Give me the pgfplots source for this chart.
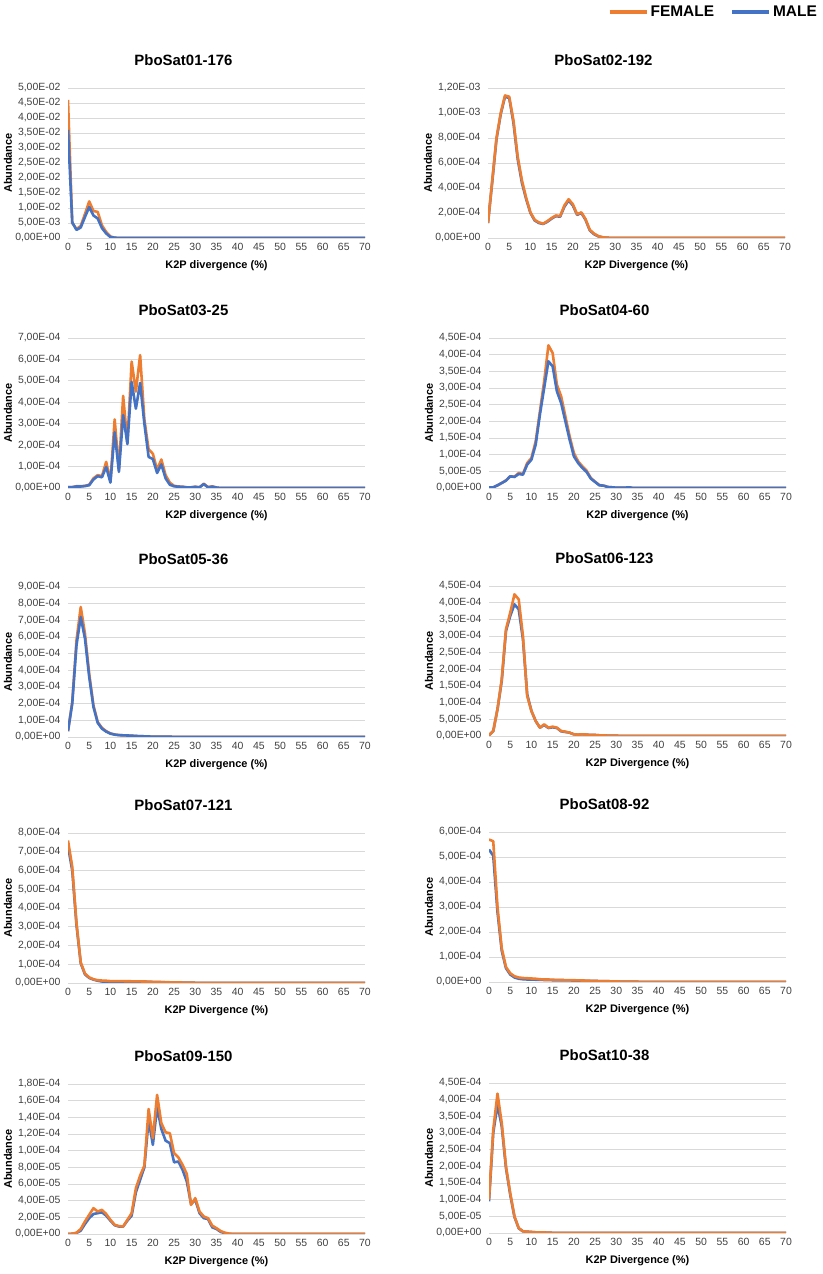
\documentclass[border=0pt]{standalone}
\usepackage{fontspec}
\setmainfont{Liberation Sans}
\usepackage{pgfplots}
\pgfplotsset{compat=1.18}

\definecolor{exor}{HTML}{ED7D31}
\definecolor{exbl}{HTML}{4472C4}
\definecolor{gridc}{HTML}{D9D9D9}
\definecolor{tickc}{HTML}{404040}

\pgfplotsset{
 panel/.style={
  scale only axis, width=297bp, height=150bp, anchor=south west,
  xmin=0, xmax=70, ymin=0,
  xtick={0,5,...,70},
  scaled y ticks=false, scaled x ticks=false,
  axis line style={draw=none}, tick style={draw=none},
  ymajorgrids, grid style={draw=gridc, line width=0.9pt},
  tick label style={font=\fontsize{10.5}{12}\selectfont, text=tickc},
  /pgf/number format/assume math mode=true,
  xticklabel style={yshift=-2bp},
  yticklabel style={xshift=-4bp},
  title style={font=\fontsize{15}{18}\selectfont\bfseries, at={(axis description cs:0.5,1)}, anchor=center, xshift=-33bp, yshift=22bp},
  label style={font=\fontsize{11}{13}\selectfont\bfseries},
  xlabel style={at={(axis description cs:0.5,0)}, anchor=center, yshift=-28bp},
  ylabel style={at={([xshift=-60bp]axis description cs:0,0.5)}, anchor=center},
  ylabel={Abundance},
 },
 fem/.style={exor, line width=2.6bp, line join=round},
 mal/.style={exbl, line width=2.6bp, line join=round},
}

\begin{document}
\begin{tikzpicture}
\useasboundingbox (0,0) rectangle (823bp,1274bp);

% ---------- Panel 1
\begin{axis}[panel, at={(68bp,1036bp)}, title={PboSat01-176}, xlabel={K2P divergence (\%)},
  ymax=0.05, ytick={0,0.005,0.01,0.015,0.02,0.025,0.03,0.035,0.04,0.045,0.05},
  yticklabels={{0,00E+00},{5,00E-03},{1,00E-02},{1,50E-02},{2,00E-02},{2,50E-02},{3,00E-02},{3,50E-02},{4,00E-02},{4,50E-02},{5,00E-02}}]
\addplot[fem] coordinates {(0,0.046)(1,0.005)(2,0.0030)(3,0.0040)(4,0.0080)(5,0.0122)(6,0.0090)(7,0.0087)(8,0.0042)(9,0.0020)(10,0.0005)(11,0.0001)(12,0)(70,0)};
\addplot[mal] coordinates {(0,0.036)(1,0.0052)(2,0.0027)(3,0.0035)(4,0.0070)(5,0.0103)(6,0.0075)(7,0.0065)(8,0.0033)(9,0.0015)(10,0.0003)(11,0.0001)(12,0)(70,0)};
\end{axis}

% ---------- Panel 2
\begin{axis}[panel, at={(488bp,1036bp)}, title={PboSat02-192}, xlabel={K2P Divergence (\%)},
  ymax=1.2e-3, ytick={0,2e-4,4e-4,6e-4,8e-4,1e-3,1.2e-3},
  yticklabels={{0,00E+00},{2,00E-04},{4,00E-04},{6,00E-04},{8,00E-04},{1,00E-03},{1,20E-03}},
  legend style={at={(axis description cs:1,1)}, anchor=east, xshift=37bp, yshift=76bp, draw=none, fill=none,
    font=\fontsize{15.5}{18}\selectfont\bfseries, /tikz/every even column/.append style={column sep=14bp}},
  legend columns=2, legend cell align=left,
  legend image code/.code={\draw[#1, line width=4bp] (0bp,0bp) -- (37bp,0bp);}]
\addlegendimage{exor}
\addlegendentry{FEMALE}
\addlegendimage{exbl}
\addlegendentry{MALE}
\addplot[mal, forget plot] coordinates {(0,1.2e-4)(1,4.5e-4)(2,7.9e-4)(3,9.9e-4)(4,1.13e-3)(5,1.12e-3)(6,9.2e-4)(7,6.3e-4)(8,4.4e-4)(9,3.1e-4)(10,2.0e-4)(11,1.4e-4)(12,1.2e-4)(13,1.12e-4)(14,1.3e-4)(15,1.55e-4)(16,1.75e-4)(17,1.7e-4)(18,2.5e-4)(19,3.0e-4)(20,2.6e-4)(21,1.85e-4)(22,2.0e-4)(23,1.45e-4)(24,6e-5)(25,3e-5)(26,1.3e-5)(27,5e-6)(28,2e-6)(29,1e-6)(30,0)(70,0)};
\addplot[fem, forget plot] coordinates {(0,1.2e-4)(1,4.6e-4)(2,8.0e-4)(3,1.0e-3)(4,1.14e-3)(5,1.13e-3)(6,9.4e-4)(7,6.5e-4)(8,4.6e-4)(9,3.2e-4)(10,2.05e-4)(11,1.45e-4)(12,1.25e-4)(13,1.15e-4)(14,1.35e-4)(15,1.6e-4)(16,1.8e-4)(17,1.75e-4)(18,2.6e-4)(19,3.1e-4)(20,2.7e-4)(21,1.9e-4)(22,2.05e-4)(23,1.5e-4)(24,6.5e-5)(25,3.5e-5)(26,1.5e-5)(27,6e-6)(28,2e-6)(29,1e-6)(30,0)(70,0)};
\end{axis}

% ---------- Panel 3
\begin{axis}[panel, at={(68bp,786bp)}, title={PboSat03-25}, xlabel={K2P divergence (\%)},
  ymax=7e-4, ytick={0,1e-4,2e-4,3e-4,4e-4,5e-4,6e-4,7e-4},
  yticklabels={{0,00E+00},{1,00E-04},{2,00E-04},{3,00E-04},{4,00E-04},{5,00E-04},{6,00E-04},{7,00E-04}}]
\addplot[fem] coordinates {(0,4e-6)(1,4e-6)(2,8e-6)(3,8e-6)(4,1e-5)(5,1.5e-5)(6,4.5e-5)(7,6e-5)(8,5.5e-5)(9,1.22e-4)(10,3e-5)(11,3.2e-4)(12,8.5e-5)(13,4.3e-4)(14,2.1e-4)(15,5.9e-4)(16,4.5e-4)(17,6.2e-4)(18,3.2e-4)(19,1.8e-4)(20,1.6e-4)(21,8.5e-5)(22,1.33e-4)(23,6e-5)(24,2.5e-5)(25,1e-5)(26,7e-6)(27,6e-6)(28,3e-6)(29,3e-6)(30,6e-6)(31,3e-6)(32,2e-5)(33,4e-6)(34,8e-6)(35,2e-6)(36,0)(70,0)};
\addplot[mal] coordinates {(0,4e-6)(1,4e-6)(2,7e-6)(3,7e-6)(4,9e-6)(5,1.3e-5)(6,4e-5)(7,5.5e-5)(8,5e-5)(9,9.8e-5)(10,2.5e-5)(11,2.6e-4)(12,7.5e-5)(13,3.4e-4)(14,2.05e-4)(15,4.95e-4)(16,3.7e-4)(17,4.9e-4)(18,3e-4)(19,1.45e-4)(20,1.35e-4)(21,7e-5)(22,1.1e-4)(23,4.5e-5)(24,1.5e-5)(25,8e-6)(26,6e-6)(27,5e-6)(28,3e-6)(29,3e-6)(30,5e-6)(31,3e-6)(32,1.8e-5)(33,3e-6)(34,6e-6)(35,2e-6)(36,0)(70,0)};
\end{axis}

% ---------- Panel 4
\begin{axis}[panel, at={(489bp,786bp)}, title={PboSat04-60}, xlabel={K2P divergence (\%)},
  ymax=4.5e-4, ytick={0,5e-5,1e-4,1.5e-4,2e-4,2.5e-4,3e-4,3.5e-4,4e-4,4.5e-4},
  yticklabels={{0,00E+00},{5,00E-05},{1,00E-04},{1,50E-04},{2,00E-04},{2,50E-04},{3,00E-04},{3,50E-04},{4,00E-04},{4,50E-04}}]
\addplot[fem] coordinates {(0,2e-6)(1,2e-6)(2,8e-6)(3,1.5e-5)(4,2.3e-5)(5,3.5e-5)(6,3.4e-5)(7,4.5e-5)(8,4.2e-5)(9,7.5e-5)(10,9e-5)(11,1.4e-4)(12,2.3e-4)(13,3.2e-4)(14,4.28e-4)(15,4.05e-4)(16,3.1e-4)(17,2.75e-4)(18,2.15e-4)(19,1.55e-4)(20,1.05e-4)(21,8e-5)(22,6.5e-5)(23,5.2e-5)(24,3e-5)(25,1.9e-5)(26,9e-6)(27,7e-6)(28,3e-6)(29,2e-6)(30,1e-6)(31,1e-6)(32,1e-6)(33,2e-6)(34,0)(70,0)};
\addplot[mal] coordinates {(0,2e-6)(1,2e-6)(2,8e-6)(3,1.5e-5)(4,2.2e-5)(5,3.5e-5)(6,3.3e-5)(7,4.2e-5)(8,4e-5)(9,7e-5)(10,8.5e-5)(11,1.3e-4)(12,2.2e-4)(13,3e-4)(14,3.8e-4)(15,3.65e-4)(16,2.9e-4)(17,2.55e-4)(18,2e-4)(19,1.45e-4)(20,9.5e-5)(21,7.5e-5)(22,6e-5)(23,4.8e-5)(24,2.8e-5)(25,1.8e-5)(26,8e-6)(27,7e-6)(28,3e-6)(29,2e-6)(30,1e-6)(31,1e-6)(32,1e-6)(33,2e-6)(34,0)(70,0)};
\end{axis}

% ---------- Panel 5
\begin{axis}[panel, at={(68bp,537bp)}, title={PboSat05-36}, xlabel={K2P divergence (\%)},
  ymax=9e-4, ytick={0,1e-4,2e-4,3e-4,4e-4,5e-4,6e-4,7e-4,8e-4,9e-4},
  yticklabels={{0,00E+00},{1,00E-04},{2,00E-04},{3,00E-04},{4,00E-04},{5,00E-04},{6,00E-04},{7,00E-04},{8,00E-04},{9,00E-04}}]
\addplot[fem] coordinates {(0,3.5e-5)(1,2.1e-4)(2,5.8e-4)(3,7.8e-4)(4,6.2e-4)(5,3.8e-4)(6,1.9e-4)(7,9e-5)(8,5.5e-5)(9,3.5e-5)(10,2.2e-5)(11,1.5e-5)(12,1.2e-5)(13,1e-5)(14,9e-6)(15,8e-6)(16,6e-6)(17,5e-6)(18,4e-6)(19,3e-6)(20,2e-6)(22,2e-6)(25,1e-6)(26,0)(70,0)};
\addplot[mal] coordinates {(0,3.5e-5)(1,2.0e-4)(2,5.5e-4)(3,7.2e-4)(4,5.9e-4)(5,3.6e-4)(6,1.8e-4)(7,8.5e-5)(8,5e-5)(9,3.2e-5)(10,2e-5)(11,1.4e-5)(12,1.1e-5)(13,1e-5)(14,9e-6)(15,8e-6)(16,6e-6)(17,5e-6)(18,4e-6)(19,3e-6)(20,2e-6)(22,2e-6)(25,1e-6)(26,0)(70,0)};
\end{axis}

% ---------- Panel 6
\begin{axis}[panel, at={(489bp,538bp)}, title={PboSat06-123}, xlabel={K2P Divergence (\%)},
  ymax=4.5e-4, ytick={0,5e-5,1e-4,1.5e-4,2e-4,2.5e-4,3e-4,3.5e-4,4e-4,4.5e-4},
  yticklabels={{0,00E+00},{5,00E-05},{1,00E-04},{1,50E-04},{2,00E-04},{2,50E-04},{3,00E-04},{3,50E-04},{4,00E-04},{4,50E-04}}]
\addplot[mal] coordinates {(0,2e-6)(1,1.5e-5)(2,8e-5)(3,1.65e-4)(4,3.15e-4)(5,3.6e-4)(6,3.95e-4)(7,3.8e-4)(8,2.9e-4)(9,1.25e-4)(10,7.5e-5)(11,4.5e-5)(12,2.5e-5)(13,3.3e-5)(14,2.4e-5)(15,2.6e-5)(16,2.4e-5)(17,1.4e-5)(18,1.2e-5)(19,1e-5)(20,5e-6)(21,4e-6)(22,5e-6)(23,4e-6)(24,3e-6)(25,3e-6)(26,2e-6)(27,2e-6)(28,1e-6)(30,1e-6)(31,0)(70,0)};
\addplot[fem] coordinates {(0,2e-6)(1,1.5e-5)(2,8e-5)(3,1.7e-4)(4,3.2e-4)(5,3.7e-4)(6,4.25e-4)(7,4.1e-4)(8,3e-4)(9,1.2e-4)(10,7.5e-5)(11,4.5e-5)(12,2.5e-5)(13,3.5e-5)(14,2.5e-5)(15,2.8e-5)(16,2.5e-5)(17,1.5e-5)(18,1.3e-5)(19,1e-5)(20,5e-6)(21,4e-6)(22,5e-6)(23,4e-6)(24,3e-6)(25,3e-6)(26,2e-6)(27,2e-6)(28,1e-6)(30,1e-6)(31,0)(70,0)};
\end{axis}

% ---------- Panel 7
\begin{axis}[panel, at={(68bp,291bp)}, title={PboSat07-121}, xlabel={K2P Divergence (\%)},
  ymax=8e-4, ytick={0,1e-4,2e-4,3e-4,4e-4,5e-4,6e-4,7e-4,8e-4},
  yticklabels={{0,00E+00},{1,00E-04},{2,00E-04},{3,00E-04},{4,00E-04},{5,00E-04},{6,00E-04},{7,00E-04},{8,00E-04}}]
\addplot[mal] coordinates {(0,7.3e-4)(1,6e-4)(2,3.1e-4)(3,1.05e-4)(4,4.6e-5)(5,2.7e-5)(6,1.8e-5)(7,1.2e-5)(8,8e-6)(9,5e-6)(10,6e-6)(12,8e-6)(15,8e-6)(18,7e-6)(20,5e-6)(22,4e-6)(25,3e-6)(28,2e-6)(30,1e-6)(31,0)(70,0)};
\addplot[fem] coordinates {(0,7.6e-4)(1,6.2e-4)(2,3.2e-4)(3,1.1e-4)(4,5e-5)(5,3e-5)(6,2e-5)(7,1.5e-5)(8,1.3e-5)(9,1.2e-5)(10,1e-5)(12,1e-5)(15,9e-6)(18,8e-6)(20,6e-6)(22,5e-6)(25,3e-6)(28,2e-6)(30,1e-6)(31,0)(70,0)};
\end{axis}

% ---------- Panel 8
\begin{axis}[panel, at={(489bp,292bp)}, title={PboSat08-92}, xlabel={K2P Divergence (\%)},
  ymax=6e-4, ytick={0,1e-4,2e-4,3e-4,4e-4,5e-4,6e-4},
  yticklabels={{0,00E+00},{1,00E-04},{2,00E-04},{3,00E-04},{4,00E-04},{5,00E-04},{6,00E-04}}]
\addplot[mal] coordinates {(0,5.3e-4)(1,5.05e-4)(2,2.8e-4)(3,1.25e-4)(4,5.5e-5)(5,3e-5)(6,1.8e-5)(7,1.3e-5)(8,1.1e-5)(9,1e-5)(10,1e-5)(11,9e-6)(12,9e-6)(13,8e-6)(14,8e-6)(15,7e-6)(17,7e-6)(20,6e-6)(22,5e-6)(25,4e-6)(28,3e-6)(30,2e-6)(33,1e-6)(35,1e-6)(36,0)(70,0)};
\addplot[fem] coordinates {(0,5.7e-4)(1,5.63e-4)(2,3e-4)(3,1.35e-4)(4,6e-5)(5,3.5e-5)(6,2.3e-5)(7,1.8e-5)(8,1.6e-5)(9,1.5e-5)(10,1.4e-5)(11,1.3e-5)(12,1.1e-5)(13,1e-5)(14,1e-5)(15,9e-6)(17,8e-6)(20,7e-6)(22,6e-6)(25,4e-6)(28,3e-6)(30,2e-6)(33,1e-6)(35,1e-6)(36,0)(70,0)};
\end{axis}

% ---------- Panel 9
\begin{axis}[panel, at={(68bp,40bp)}, title={PboSat09-150}, xlabel={K2P Divergence (\%)},
  ymax=1.8e-4, ytick={0,2e-5,4e-5,6e-5,8e-5,1e-4,1.2e-4,1.4e-4,1.6e-4,1.8e-4},
  yticklabels={{0,00E+00},{2,00E-05},{4,00E-05},{6,00E-05},{8,00E-05},{1,00E-04},{1,20E-04},{1,40E-04},{1,60E-04},{1,80E-04}}]
\addplot[mal] coordinates {(0,0)(1,3e-7)(2,1.2e-6)(3,4e-6)(4,1.2e-5)(5,1.9e-5)(6,2.4e-5)(7,2.5e-5)(8,2.6e-5)(9,2.2e-5)(10,1.6e-5)(11,1.05e-5)(12,9e-6)(13,9e-6)(14,1.6e-5)(15,2.2e-5)(16,5e-5)(17,6.5e-5)(18,8e-5)(19,1.37e-4)(20,1.07e-4)(21,1.52e-4)(22,1.26e-4)(23,1.12e-4)(24,1.09e-4)(25,8.6e-5)(26,8.7e-5)(27,7.7e-5)(28,6.3e-5)(29,3.6e-5)(30,4.1e-5)(31,2.5e-5)(32,1.9e-5)(33,1.8e-5)(34,8e-6)(35,6e-6)(36,2.5e-6)(37,1e-6)(38,0)(70,0)};
\addplot[fem] coordinates {(0,0)(1,3e-7)(2,1.5e-6)(3,6e-6)(4,1.5e-5)(5,2.3e-5)(6,3.1e-5)(7,2.7e-5)(8,2.9e-5)(9,2.4e-5)(10,1.7e-5)(11,1.1e-5)(12,9.5e-6)(13,9e-6)(14,1.7e-5)(15,2.5e-5)(16,5.5e-5)(17,7e-5)(18,8.2e-5)(19,1.5e-4)(20,1.15e-4)(21,1.67e-4)(22,1.33e-4)(23,1.22e-4)(24,1.21e-4)(25,9.7e-5)(26,9.2e-5)(27,8.3e-5)(28,7.2e-5)(29,3.5e-5)(30,4.3e-5)(31,2.7e-5)(32,2.1e-5)(33,1.9e-5)(34,1e-5)(35,7e-6)(36,3.5e-6)(37,1.5e-6)(38,5e-7)(39,0)(70,0)};
\end{axis}

% ---------- Panel 10
\begin{axis}[panel, at={(489bp,41bp)}, title={PboSat10-38}, xlabel={K2P Divergence (\%)},
  ymax=4.5e-4, ytick={0,5e-5,1e-4,1.5e-4,2e-4,2.5e-4,3e-4,3.5e-4,4e-4,4.5e-4},
  yticklabels={{0,00E+00},{5,00E-05},{1,00E-04},{1,50E-04},{2,00E-04},{2,50E-04},{3,00E-04},{3,50E-04},{4,00E-04},{4,50E-04}}]
\addplot[mal] coordinates {(0,9.5e-5)(1,3.0e-4)(2,3.85e-4)(3,3.2e-4)(4,1.95e-4)(5,1.15e-4)(6,4.8e-5)(7,1.4e-5)(8,5e-6)(9,4e-6)(10,3e-6)(11,2e-6)(12,2e-6)(13,1.5e-6)(14,1e-6)(15,5e-7)(16,0)(70,0)};
\addplot[fem] coordinates {(0,1.0e-4)(1,3.1e-4)(2,4.18e-4)(3,3.3e-4)(4,2.0e-4)(5,1.2e-4)(6,5e-5)(7,1.5e-5)(8,5e-6)(9,4e-6)(10,3e-6)(11,2e-6)(12,2e-6)(13,1.5e-6)(14,1e-6)(15,5e-7)(16,0)(70,0)};
\end{axis}

\end{tikzpicture}
\end{document}
